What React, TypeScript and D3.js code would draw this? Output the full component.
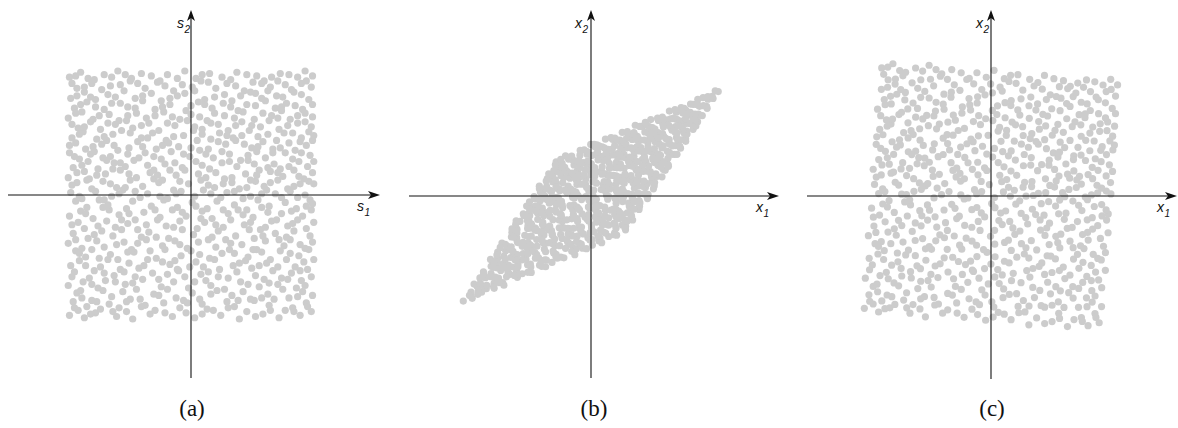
import React from "react";
import * as d3 from "d3";

// Source samples (s1, s2) in hundredths, uniform in the square [-1,1]^2
const SOURCE: [number, number][] = [
  [-98,-97],[-91,-93],[-86,-99],[-77,-95],[-73,-92],[-60,-98],[-52,-94],[-47,-100],[-33,-96],[-29,-93],[-15,-98],[-4,-95],[3,-99],[18,-93],[24,-97],[39,-100],[45,-94],[58,-96],[71,-99],[76,-93],[88,-97],[97,-94],
  [-95,-86],[-84,-90],[-80,-85],[-66,-88],[-58,-91],[-41,-84],[-37,-89],[-22,-87],[-9,-91],[-6,-85],[9,-88],[13,-92],[29,-86],[35,-90],[51,-85],[63,-89],[67,-84],[82,-91],[93,-87],
  [-92,-79],[-88,-83],[-71,-77],[-64,-82],[-55,-78],[-49,-84],[-30,-80],[-19,-76],[-12,-83],[1,-79],[7,-84],[21,-77],[33,-81],[42,-78],[48,-84],[62,-80],[74,-76],[79,-83],[90,-78],[98,-81],
  [-99,-73],[-87,-70],[-75,-75],[-69,-69],[-53,-72],[-44,-76],[-39,-68],[-24,-74],[-14,-70],[-2,-75],[12,-69],[16,-73],[27,-76],[40,-70],[55,-74],[59,-68],[70,-72],[85,-75],[89,-69],
  [-94,-62],[-82,-67],[-78,-61],[-62,-65],[-57,-60],[-45,-66],[-31,-63],[-26,-68],[-10,-61],[-5,-66],[8,-64],[23,-60],[30,-67],[37,-62],[52,-65],[66,-61],[73,-67],[81,-63],[94,-60],[97,-66],
  [-97,-57],[-90,-53],[-73,-58],[-67,-52],[-50,-55],[-42,-59],[-35,-52],[-17,-56],[-11,-60],[4,-54],[10,-58],[19,-52],[34,-57],[44,-53],[49,-59],[61,-55],[77,-52],[84,-58],[91,-54],
  [-93,-45],[-85,-50],[-80,-44],[-65,-48],[-59,-52],[-46,-46],[-28,-51],[-21,-44],[-8,-49],[0,-45],[15,-51],[25,-47],[31,-44],[46,-50],[57,-46],[64,-52],[72,-45],[87,-49],[95,-44],
  [-99,-39],[-88,-43],[-76,-37],[-70,-42],[-54,-38],[-48,-44],[-36,-36],[-23,-41],[-13,-37],[-3,-43],[6,-38],[20,-42],[28,-36],[41,-40],[53,-44],[60,-37],[75,-41],[80,-36],[92,-43],[98,-38],
  [-95,-31],[-83,-35],[-72,-29],[-63,-33],[-56,-28],[-40,-34],[-34,-30],[-18,-35],[-7,-28],[2,-32],[14,-36],[22,-29],[36,-33],[47,-28],[51,-35],[68,-31],[71,-36],[83,-29],[96,-33],
  [-91,-22],[-86,-27],[-68,-21],[-61,-26],[-51,-23],[-43,-28],[-27,-20],[-20,-25],[-9,-21],[5,-27],[11,-22],[26,-26],[32,-20],[43,-24],[56,-28],[65,-21],[78,-25],[86,-20],[93,-27],
  [-98,-17],[-89,-13],[-79,-19],[-66,-12],[-58,-16],[-45,-20],[-38,-14],[-25,-18],[-15,-12],[-4,-17],[9,-13],[17,-19],[30,-15],[38,-12],[50,-18],[62,-14],[69,-20],[81,-13],[90,-17],[97,-12],
  [-93,-5],[-84,-10],[-74,-4],[-67,-8],[-52,-11],[-47,-5],[-32,-9],[-22,-4],[-11,-10],[1,-6],[13,-11],[21,-5],[35,-8],[45,-12],[54,-4],[63,-9],[76,-6],[85,-11],[98,-7],
  [-97,2],[-88,-3],[-77,3],[-64,-1],[-55,4],[-41,-2],[-35,1],[-19,-3],[-8,3],[3,-1],[10,4],[24,-2],[29,2],[42,-3],[57,1],[61,4],[73,-2],[80,3],[92,0],[96,-4],
  [-92,10],[-80,5],[-71,11],[-60,6],[-49,12],[-39,7],[-26,10],[-14,4],[-2,9],[8,12],[19,6],[33,10],[39,5],[52,11],[59,7],[70,12],[78,5],[88,9],[95,11],
  [-99,14],[-86,19],[-82,13],[-69,17],[-57,20],[-44,14],[-33,18],[-23,12],[-12,16],[-5,20],[12,14],[20,18],[27,13],[44,17],[48,12],[64,19],[74,15],[83,20],[91,13],[98,18],
  [-95,22],[-83,27],[-75,21],[-62,26],[-53,23],[-46,28],[-30,20],[-21,25],[-7,22],[4,27],[15,21],[25,26],[37,23],[46,28],[55,20],[67,25],[72,21],[87,27],[94,23],
  [-98,34],[-90,29],[-78,35],[-65,31],[-59,36],[-42,30],[-37,34],[-24,29],[-16,35],[-1,31],[7,36],[18,30],[31,33],[40,28],[53,35],[60,30],[76,34],[82,29],[96,32],
  [-93,42],[-85,37],[-72,41],[-68,44],[-50,38],[-43,43],[-28,37],[-18,42],[-10,39],[5,44],[14,37],[28,41],[36,44],[49,38],[58,43],[66,37],[79,42],[84,36],[93,40],[98,44],
  [-96,46],[-87,51],[-76,45],[-63,49],[-56,52],[-40,46],[-31,50],[-20,44],[-6,48],[2,52],[16,45],[23,50],[34,46],[47,52],[54,47],[69,44],[75,50],[89,46],[95,51],
  [-91,54],[-81,59],[-73,53],[-61,57],[-52,60],[-47,54],[-34,58],[-26,52],[-13,56],[-3,60],[9,53],[22,57],[30,52],[41,59],[56,55],[63,60],[71,53],[86,58],[97,55],
  [-99,62],[-88,67],[-79,61],[-66,65],[-58,60],[-44,66],[-36,62],[-22,67],[-9,61],[0,65],[13,60],[19,66],[35,62],[42,67],[51,61],[65,64],[73,68],[80,61],[92,66],
  [-94,70],[-84,75],[-70,69],[-64,74],[-51,71],[-39,76],[-29,69],[-17,73],[-4,68],[6,75],[17,70],[26,74],[38,68],[45,73],[60,76],[68,70],[77,74],[90,69],[98,73],
  [-97,78],[-86,83],[-77,77],[-67,81],[-54,84],[-45,78],[-32,82],[-24,76],[-11,80],[3,84],[11,77],[27,81],[33,76],[48,83],[57,78],[62,84],[74,79],[83,83],[95,77],
  [-92,86],[-80,90],[-72,85],[-57,89],[-49,92],[-37,86],[-27,91],[-14,84],[-7,89],[8,92],[20,86],[29,90],[43,84],[50,91],[64,87],[70,92],[81,85],[89,90],[97,87],
  [-98,95],[-89,99],[-78,93],[-70,97],[-59,100],[-48,94],[-40,98],[-25,92],[-19,97],[-5,100],[4,94],[15,98],[32,93],[37,99],[53,96],[59,92],[72,98],[86,95],[92,100],
];

// Further source samples (s1, s2), in hundredths
const SOURCE_MORE: [number, number][] = [
  [-94,-91],[-81,-96],[-63,-94],[-40,-90],[-21,-95],[9,-96],[30,-91],[52,-98],[64,-93],[83,-94],
  [-89,-77],[-76,-86],[-52,-86],[-26,-81],[-3,-87],[16,-80],[38,-85],[57,-83],[86,-82],[94,-90],
  [-96,-66],[-80,-72],[-61,-70],[-47,-71],[-19,-64],[3,-70],[22,-66],[46,-72],[63,-71],[78,-68],[92,-73],
  [-85,-57],[-70,-63],[-54,-62],[-38,-57],[-23,-54],[-1,-58],[14,-62],[39,-55],[55,-57],[70,-58],[88,-61],
  [-90,-47],[-74,-51],[-51,-46],[-33,-45],[-13,-53],[7,-48],[35,-47],[50,-44],[80,-47],[99,-52],
  [-93,-36],[-78,-32],[-60,-40],[-43,-39],[-28,-34],[-9,-40],[17,-34],[32,-39],[58,-33],[77,-34],[88,-40],
  [-96,-24],[-75,-25],[-56,-20],[-36,-24],[-14,-26],[8,-19],[20,-24],[48,-22],[60,-26],[82,-23],[99,-22],
  [-85,-15],[-71,-10],[-50,-15],[-29,-12],[-7,-14],[4,-9],[26,-12],[42,-16],[57,-10],[73,-15],[93,-9],
  [-90,-1],[-70,-4],[-58,1],[-45,3],[-25,-1],[-12,1],[16,1],[35,3],[48,-1],[68,1],[86,-2],
  [-96,8],[-84,12],[-65,9],[-53,6],[-30,13],[-9,11],[14,8],[26,9],[45,6],[64,10],[83,7],[99,9],
  [-92,18],[-76,16],[-63,21],[-50,17],[-27,16],[-17,20],[6,17],[33,14],[53,16],[70,18],[87,15],
  [-88,24],[-68,28],[-57,26],[-35,24],[-13,26],[9,24],[31,27],[51,25],[62,22],[79,23],[99,27],
  [-94,31],[-81,33],[-71,30],[-51,33],[-30,31],[-6,33],[12,33],[25,35],[46,32],[66,34],[89,34],
  [-98,40],[-79,39],[-62,40],[-39,39],[-23,40],[0,38],[22,43],[43,41],[54,39],[72,38],[88,43],
  [-90,49],[-70,47],[-49,50],[-35,46],[-14,47],[9,49],[29,48],[41,48],[62,49],[82,50],[99,48],
  [-96,57],[-86,55],[-67,58],[-40,56],[-19,58],[3,55],[16,58],[36,56],[49,56],[78,56],[92,59],
  [-93,66],[-74,64],[-51,64],[-29,64],[-15,63],[7,63],[27,64],[58,66],[70,62],[86,64],[98,63],
  [-89,73],[-77,71],[-57,74],[-45,70],[-23,71],[0,72],[11,73],[32,71],[52,72],[73,71],[84,72],
  [-92,80],[-81,79],[-61,79],[-39,80],[-17,78],[-5,82],[19,79],[40,80],[52,82],[69,80],[89,81],
  [-96,90],[-86,87],[-65,88],[-43,90],[-21,88],[1,87],[14,91],[36,88],[57,90],[76,89],[93,92],
  [-93,96],[-83,94],[-64,95],[-53,97],[-32,96],[-11,94],[9,97],[25,95],[45,97],[65,95],[79,97],[98,96],
];

// Linear maps applied to the sources for each panel (math coordinates, y up)
const MATRIX_A = [[1, 0], [0, 1]];
const MATRIX_B = [[0.665, 0.39], [0.286, 0.585]];
const MATRIX_C = [[0.97, 0.073], [-0.075, 1.01]];

const CAPTIONS = ["(a)", "(b)", "(c)"];
const X_LABELS = ["s", "x", "x"];
const Y_LABELS = ["s", "x", "x"];

const PANELS = [
  { cx: 191, cy: 195, axL: 8, axR: 380, axT: 10, axB: 378, m: MATRIX_A, capX: 192, xl: 357, yl: 177 },
  { cx: 591, cy: 196, axL: 409, axR: 779, axT: 10, axB: 378, m: MATRIX_B, capX: 594, xl: 756, yl: 575 },
  { cx: 991, cy: 196, axL: 807, axR: 1177, axT: 10, axB: 379, m: MATRIX_C, capX: 992, xl: 1157, yl: 976 },
];

const UNIT = 124;
const DOT = "#cccccc";
const AX = "#111111";

const ALL_SOURCE = [...SOURCE, ...SOURCE_MORE];

function Panel({ p, i }: { p: typeof PANELS[number]; i: number }) {
  const xs = d3.scaleLinear().domain([-1, 1]).range([p.cx - UNIT, p.cx + UNIT]);
  const ys = d3.scaleLinear().domain([-1, 1]).range([p.cy + UNIT, p.cy - UNIT]);
  const pts = ALL_SOURCE.map(([a, b]) => {
    const s1 = a / 100, s2 = b / 100;
    return [p.m[0][0] * s1 + p.m[0][1] * s2, p.m[1][0] * s1 + p.m[1][1] * s2];
  });
  const rx = p.axR, ty = p.axT;
  const arrowR = `M${rx},${p.cy} L${rx - 12},${p.cy - 4} L${rx - 9},${p.cy} L${rx - 12},${p.cy + 4} Z`;
  const arrowU = `M${p.cx},${ty} L${p.cx - 4},${ty + 11} L${p.cx},${ty + 8} L${p.cx + 4},${ty + 11} Z`;
  const labFont = "'Liberation Sans', Arial, sans-serif";
  return (
    <g>
      {pts.map((d, k) => (
        <circle key={k} cx={xs(d[0])} cy={ys(d[1])} r={3.6} fill={DOT} />
      ))}
      <line x1={p.axL} x2={rx - 8} y1={p.cy} y2={p.cy} stroke={AX} strokeWidth={1.1} />
      <line x1={p.cx} x2={p.cx} y1={ty + 7} y2={p.axB} stroke={AX} strokeWidth={1.1} />
      <path d={arrowR} fill={AX} />
      <path d={arrowU} fill={AX} />
      <text x={p.xl} y={p.cy + 16} fontFamily={labFont} fontStyle="italic" fontSize={14} fill="#111">
        {X_LABELS[i]}
        <tspan fontSize={10} dx={0.5} dy={5}>1</tspan>
      </text>
      <text x={p.yl} y={28} fontFamily={labFont} fontStyle="italic" fontSize={14} fill="#111">
        {Y_LABELS[i]}
        <tspan fontSize={10} dx={0.5} dy={5}>2</tspan>
      </text>
      <text x={p.capX} y={416} textAnchor="middle" fontFamily="'Liberation Serif', 'DejaVu Serif', serif" fontSize={23} fill="#111">
        {CAPTIONS[i]}
      </text>
    </g>
  );
}

export default function App() {
  return (
    <svg width={1178} height={428} style={{ position: "absolute", left: 0, top: 0, background: "#fff" }}>
      <rect width={1178} height={428} fill="#fff" />
      {PANELS.map((p, i) => (
        <Panel key={i} p={p} i={i} />
      ))}
    </svg>
  );
}
